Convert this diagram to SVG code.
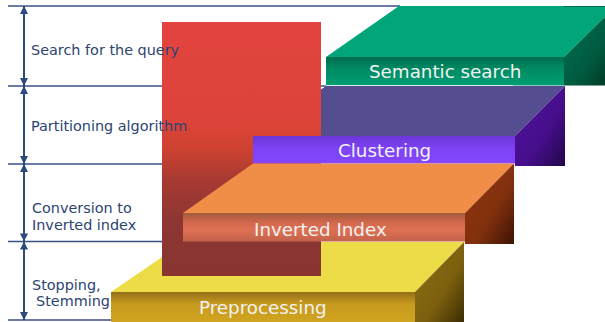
<svg xmlns="http://www.w3.org/2000/svg" width="605" height="322" viewBox="0 0 605 322">
  <style>
    .rule { stroke: #3A5285; stroke-width: 1.5; fill: none; }
    .dim { stroke: #2E4A7C; stroke-width: 2; fill: none; marker-start: url(#tip); marker-end: url(#tip); }
    .step { font-family: "DejaVu Sans", Verdana, sans-serif; font-size: 14.4px; fill: #2C4472; }
    .label { font-family: "DejaVu Sans", Verdana, sans-serif; font-size: 18.3px; fill: #F2F2F2; }
  </style>
  <defs>
    <marker id="tip" viewBox="0 0 10 10" refX="10" refY="5" markerUnits="userSpaceOnUse" markerWidth="9" markerHeight="8" orient="auto-start-reverse">
      <path d="M0,0 L10,5 L0,10 z" fill="#2E4A7C"/>
    </marker>
    <linearGradient id="redFill" x1="0" y1="0" x2="0" y2="1">
      <stop offset="0" stop-color="#E3433F"/>
      <stop offset="0.4" stop-color="#DC4339"/>
      <stop offset="0.5" stop-color="#CD4230"/>
      <stop offset="0.62" stop-color="#A83A32"/>
      <stop offset="0.78" stop-color="#8D3633"/>
      <stop offset="1" stop-color="#883532"/>
    </linearGradient>
    <linearGradient id="greenFront" x1="0" y1="0" x2="0" y2="1">
      <stop offset="0" stop-color="#006C4E"/>
      <stop offset="0.4" stop-color="#008A63"/>
      <stop offset="1" stop-color="#009E74"/>
    </linearGradient>
    <linearGradient id="greenSide" x1="0" y1="0" x2="1" y2="1">
      <stop offset="0" stop-color="#007252"/>
      <stop offset="0.6" stop-color="#005A40"/>
      <stop offset="1" stop-color="#00301E"/>
    </linearGradient>
    <linearGradient id="purpleFront" x1="0" y1="0" x2="0" y2="1">
      <stop offset="0" stop-color="#6A36D6"/>
      <stop offset="0.45" stop-color="#7D42F4"/>
      <stop offset="1" stop-color="#8446FF"/>
    </linearGradient>
    <linearGradient id="purpleSide" x1="0" y1="0" x2="1" y2="1">
      <stop offset="0" stop-color="#50129E"/>
      <stop offset="0.6" stop-color="#450E8A"/>
      <stop offset="1" stop-color="#22064A"/>
    </linearGradient>
    <linearGradient id="orangeFront" x1="0" y1="0" x2="0" y2="1">
      <stop offset="0" stop-color="#A45A3E"/>
      <stop offset="0.35" stop-color="#D4694E"/>
      <stop offset="0.6" stop-color="#DE7052"/>
      <stop offset="1" stop-color="#C2624C"/>
    </linearGradient>
    <linearGradient id="orangeSide" x1="0" y1="0" x2="1" y2="1">
      <stop offset="0" stop-color="#96340F"/>
      <stop offset="0.6" stop-color="#80300E"/>
      <stop offset="1" stop-color="#3E1204"/>
    </linearGradient>
    <linearGradient id="yellowFront" x1="0" y1="0" x2="0" y2="1">
      <stop offset="0" stop-color="#946E18"/>
      <stop offset="0.4" stop-color="#C89A1E"/>
      <stop offset="1" stop-color="#D0A420"/>
    </linearGradient>
    <linearGradient id="yellowSide" x1="0" y1="0" x2="1" y2="1">
      <stop offset="0" stop-color="#8E6E14"/>
      <stop offset="0.6" stop-color="#7C600E"/>
      <stop offset="1" stop-color="#3C2C04"/>
    </linearGradient>
  </defs>

  <rect width="605" height="322" fill="#FFFFFF"/>

  <!-- band rules -->
  <g id="rules">
    <line class="rule" x1="8" y1="6" x2="400" y2="6"/>
    <line class="rule" x1="8" y1="86" x2="330" y2="86"/>
    <line class="rule" x1="8" y1="164" x2="260" y2="164"/>
    <line class="rule" x1="8" y1="241.5" x2="190" y2="241.5"/>
    <line class="rule" x1="8" y1="320" x2="115" y2="320"/>
  </g>

  <!-- back top faces, partly hidden by the tall block -->
  <g id="preprocessing-top">
    <polygon points="111,292 184,242 464,242 415,292" fill="#ECDD48"/>
  </g>
  <g id="clustering-top">
    <polygon points="253,136 326,86 565,86 515,136" fill="#544D8F"/>
  </g>

  <!-- semantic search slab -->
  <g id="semantic-search">
    <polygon points="326,57 399,6 616,6 564,57" fill="#00A57A"/>
    <polygon points="564,57 616,6 616,85.5 564,85.5" fill="url(#greenSide)"/>
    <line x1="564" y1="6.5" x2="605" y2="6.5" stroke="#00704F" stroke-width="1"/>
    <rect x="326" y="57" width="238" height="28.5" fill="url(#greenFront)"/>
    <line x1="326" y1="85.5" x2="513" y2="85.5" stroke="#DDEDE6" stroke-width="1"/>
    <text class="label" x="369" y="78">Semantic search</text>
  </g>

  <!-- tall block -->
  <g id="block">
    <rect x="162" y="22" width="159" height="254" fill="url(#redFill)"/>
  </g>

  <!-- clustering slab front -->
  <g id="clustering">
    <polygon points="515,136 565,86 565,166 515,166" fill="url(#purpleSide)"/>
    <rect x="253" y="136" width="262" height="27.5" fill="url(#purpleFront)"/>
    <text class="label" x="338" y="157">Clustering</text>
  </g>

  <!-- inverted index slab -->
  <g id="inverted-index">
    <polygon points="183,213 253,163.5 514,163.5 465,213" fill="#F08E48"/>
    <polygon points="465,213 514,163.5 514,244 465,244" fill="url(#orangeSide)"/>
    <rect x="183" y="213" width="282" height="28.5" fill="url(#orangeFront)"/>
    <text class="label" x="254" y="236">Inverted Index</text>
  </g>

  <!-- preprocessing slab front -->
  <g id="preprocessing">
    <polygon points="415,292 464,242 464,322 415,322" fill="url(#yellowSide)"/>
    <rect x="111" y="292" width="304" height="30" fill="url(#yellowFront)"/>
    <text class="label" x="199" y="314">Preprocessing</text>
  </g>

  <!-- dimension arrows for each band -->
  <g id="connectors">
    <line class="dim" x1="24" y1="6" x2="24" y2="86"/>
    <line class="dim" x1="24" y1="86" x2="24" y2="164"/>
    <line class="dim" x1="24" y1="164" x2="24" y2="241.5"/>
    <line class="dim" x1="24" y1="241.5" x2="24" y2="320"/>
  </g>

  <!-- band captions -->
  <g id="captions">
    <text class="step" x="31" y="55">Search for the query</text>
    <text class="step" x="31" y="131">Partitioning algorithm</text>
    <text class="step" x="32" y="213">Conversion to</text>
    <text class="step" x="32" y="230">Inverted index</text>
    <text class="step" x="32" y="290">Stopping,</text>
    <text class="step" x="36" y="306">Stemming</text>
  </g>
</svg>
